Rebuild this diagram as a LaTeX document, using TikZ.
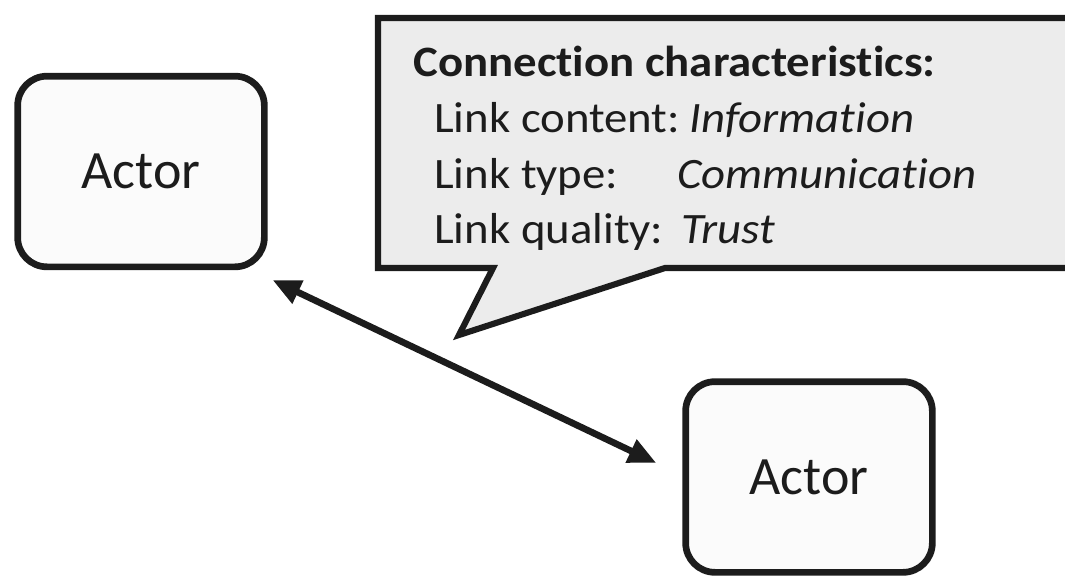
\documentclass[tikz,border=0pt]{standalone}
\usepackage{fontspec}
\setmainfont{Carlito}
\newfontfamily\calloutfont[FakeStretch=1.08,Ligatures=NoCommon]{Carlito}
\usetikzlibrary{arrows.meta,calc}
\definecolor{ink}{HTML}{1C1C1C}
\definecolor{calloutfill}{HTML}{ECECEC}
\definecolor{boxfill}{HTML}{FBFBFB}
\tikzset{
  actorbox/.style={draw=ink, fill=boxfill, line width=5pt, rounded corners=22pt,
    minimum width=185pt, minimum height=143pt, inner sep=0pt,
    font=\fontsize{40.5}{48}\selectfont, text=ink},
  calloutshape/.style={draw=ink, fill=calloutfill, line width=4.6pt, line join=miter},
  headtext/.style={anchor=base west, inner sep=0pt, text=ink, font=\calloutfont\fontsize{32.5}{38}\selectfont\bfseries},
  labeltext/.style={anchor=base west, inner sep=0pt, text=ink, font=\calloutfont\fontsize{32.5}{38}\selectfont},
  valuetext/.style={anchor=base west, inner sep=0pt, text=ink, font=\calloutfont\fontsize{32.5}{38}\selectfont\itshape},
  linkarrow/.style={draw=ink, line width=5pt, {Triangle[length=21pt,width=18pt]}-{Triangle[length=21pt,width=18pt]}}
}
\begin{document}
\begin{tikzpicture}[x=0.75pt,y=-0.75pt]
\useasboundingbox (0,0) rectangle (1065,578);
% callout
\draw[calloutshape] (378,18) -- (1080,18) -- (1080,268) -- (665,268) -- (459,335) -- (493,268) -- (378,268) -- cycle;
\node[headtext] (head) at (413,76) {Connection characteristics:};
\node[labeltext] (l1) at (434,132) {Link content:};
\node[valuetext] (v1) at (689,132) {Information};
\node[labeltext] (l2) at (434,188) {Link type:};
\node[valuetext] (v2) at (677,188) {Communication};
\node[labeltext] (l3) at (434,243) {Link quality:};
\node[valuetext] (v3) at (681,243) {Trust};
% actors
\node[actorbox] (a1) at (141,171.5) {Actor};
\node[actorbox] (a2) at (809,477) {Actor};
% connector
\coordinate (s) at ($(a1.south east)+(5,10)$);
\coordinate (e) at ($(a2.west)+(-26,-14)$);
\draw[linkarrow] (s) -- (e);
\end{tikzpicture}
\end{document}
